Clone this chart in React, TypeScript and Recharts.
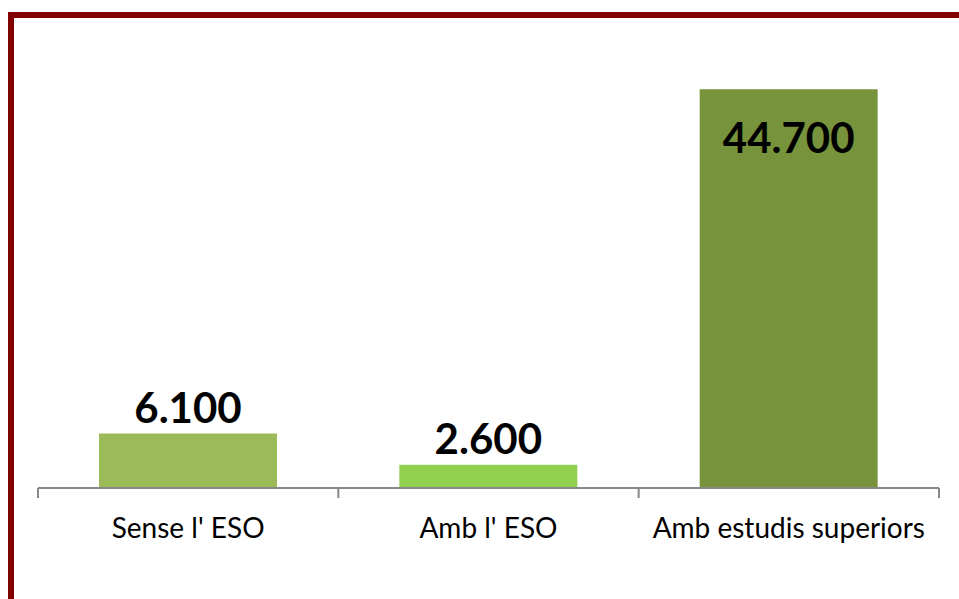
import { Bar, BarChart, Cell, LabelList, XAxis, YAxis } from 'recharts';

const CATEGORIES = ["Sense l' ESO", "Amb l' ESO", 'Amb estudis superiors'];
const VALUES = [6100, 2600, 44700];
const BAR_COLORS = ['#9BBB59', '#92D050', '#77933C'];

const data = CATEGORIES.map((name, i) => ({ name, value: VALUES[i] }));

const FONT = 'Lato, "Open Sans", sans-serif';
const AXIS_GREY = '#888888';

const fmt = (v: number) => v.toLocaleString('de-DE');

// Excel style: tick marks sit between categories, labels in the middle
function CategoryTick({ x, y, width, payload, index, visibleTicksCount }: any) {
  const band = Number(width) / visibleTicksCount;
  const left = x - band / 2;
  const right = x + band / 2;
  return (
    <g>
      <line x1={left} x2={left} y1={y} y2={y + 10} stroke={AXIS_GREY} strokeWidth={2} />
      {index === visibleTicksCount - 1 && (
        <line x1={right} x2={right} y1={y} y2={y + 10} stroke={AXIS_GREY} strokeWidth={2} />
      )}
      <text
        x={x}
        y={y}
        dy={50}
        textAnchor="middle"
        fontFamily={FONT}
        fontSize={28}
        fill="#000"
      >
        {payload.value}
      </text>
    </g>
  );
}

function ValueLabel({ x, y, width, value }: any) {
  const inside = value > 20000;
  return (
    <text
      x={x + width / 2}
      y={inside ? y + 64 : y - 11}
      textAnchor="middle"
      fontFamily={FONT}
      fontWeight="bold"
      fontSize={42}
      fill="#000"
    >
      {fmt(value)}
    </text>
  );
}

export default function App() {
  return (
    <div
      style={{
        position: 'absolute',
        top: 0,
        left: 0,
        width: 959,
        height: 599,
        overflow: 'hidden',
        background: '#fff',
      }}
    >
      <div
        style={{
          position: 'absolute',
          left: 8,
          top: 12,
          width: 1000,
          height: 700,
          borderTop: '6px solid #800000',
          borderLeft: '6px solid #800000',
        }}
      />
      <div style={{ position: 'absolute', left: 0, top: 0 }}>
        <BarChart
          width={959}
          height={599}
          data={data}
          margin={{ top: 42, right: 20, left: 38, bottom: 0 }}
          barSize={178}
        >
          <XAxis
            dataKey="name"
            height={111}
            axisLine={{ stroke: AXIS_GREY, strokeWidth: 2 }}
            tickLine={false}
            tickSize={0}
            tickMargin={0}
            interval={0}
            tick={<CategoryTick />}
          />
          <YAxis hide domain={[0, 50000]} />
          <Bar dataKey="value" isAnimationActive={false}>
            {data.map((d, i) => (
              <Cell key={d.name} fill={BAR_COLORS[i]} />
            ))}
            <LabelList dataKey="value" content={<ValueLabel />} />
          </Bar>
        </BarChart>
      </div>
    </div>
  );
}
